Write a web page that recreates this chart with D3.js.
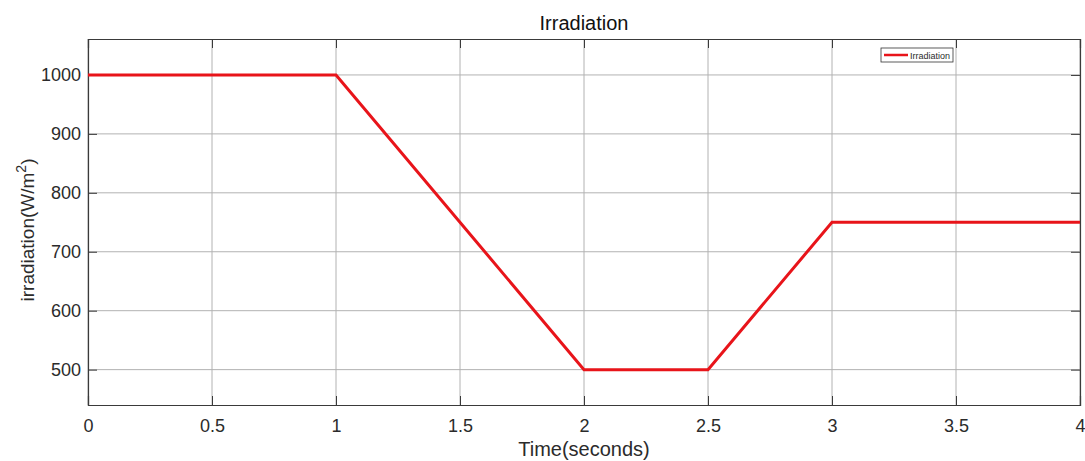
<!DOCTYPE html>
<html>
<head>
<meta charset="utf-8">
<script src="https://cdn.jsdelivr.net/npm/d3@7"></script>
<style>
  html, body { margin: 0; padding: 0; background: #fff; }
  svg { display: block; font-family: "Liberation Sans", Arial, sans-serif; }
</style>
</head>
<body>
<svg id="chart" width="1085" height="461"></svg>
<script>
// Irradiation profile over time
const timeSeconds = [0, 1, 2, 2.5, 3, 4];
const irradiation = [1000, 1000, 500, 500, 750, 750];
const xTicks = [0, 0.5, 1, 1.5, 2, 2.5, 3, 3.5, 4];
const yTicks = [500, 600, 700, 800, 900, 1000];

const svg = d3.select("#chart");
const margin = { left: 88, right: 5, top: 39, bottom: 56 };
const W = 1085, H = 461;
const x0 = margin.left, x1 = W - margin.right;
const y0 = H - margin.bottom, y1 = margin.top;

const x = d3.scaleLinear().domain([0, 4]).range([x0, x1]);
const y = d3.scaleLinear().domain([440, 1061]).range([y0, y1]);

const gridColor = "#b2b2b2";
const axisColor = "#3a3a3a";
const textColor = "#2b2b2b";

// grid
svg.append("g").selectAll("line").data(xTicks).join("line")
  .attr("x1", d => x(d)).attr("x2", d => x(d))
  .attr("y1", y0).attr("y2", y1)
  .attr("stroke", gridColor).attr("stroke-width", 1);
svg.append("g").selectAll("line").data(yTicks).join("line")
  .attr("x1", x0).attr("x2", x1)
  .attr("y1", d => y(d)).attr("y2", d => y(d))
  .attr("stroke", gridColor).attr("stroke-width", 1);

// axes with inward ticks, box on all sides
const xAxis = d3.axisBottom(x).tickValues(xTicks).tickSize(-9).tickPadding(14).tickFormat(d3.format("~g"));
const yAxis = d3.axisLeft(y).tickValues(yTicks).tickSize(-9).tickPadding(7).tickFormat(d3.format("d"));

const gx = svg.append("g").attr("transform", `translate(0,${y0})`).call(xAxis);
const gy = svg.append("g").attr("transform", `translate(${x0},0)`).call(yAxis);
const gxTop = svg.append("g").attr("transform", `translate(0,${y1})`)
  .call(d3.axisTop(x).tickValues(xTicks).tickSize(-9).tickFormat(""));
const gyRight = svg.append("g").attr("transform", `translate(${x1},0)`)
  .call(d3.axisRight(y).tickValues(yTicks).tickSize(-9).tickFormat(""));

[gx, gy, gxTop, gyRight].forEach(g => {
  g.select(".domain").attr("stroke", axisColor).attr("stroke-width", 1.2);
  g.selectAll(".tick line").attr("stroke", axisColor).attr("stroke-width", 1);
  g.selectAll(".tick text").attr("fill", textColor).attr("font-size", 18)
    .attr("font-family", "Liberation Sans, Arial, sans-serif");
});
gx.selectAll(".tick text").attr("dy", "0.71em");

// data line
const line = d3.line().x((d, i) => x(timeSeconds[i])).y(d => y(d));
svg.append("path").datum(irradiation)
  .attr("d", line)
  .attr("fill", "none")
  .attr("stroke", "#e8141a")
  .attr("stroke-width", 3)
  .attr("stroke-linejoin", "miter");

// title
svg.append("text").attr("x", (x0 + x1) / 2).attr("y", 30)
  .attr("text-anchor", "middle").attr("font-size", 20).attr("fill", "#111")
  .text("Irradiation");

// x label
svg.append("text").attr("x", (x0 + x1) / 2).attr("y", 456)
  .attr("text-anchor", "middle").attr("font-size", 20).attr("fill", textColor)
  .text("Time(seconds)");

// y label with superscript
const yl = svg.append("text")
  .attr("transform", `translate(34,230) rotate(-90)`)
  .attr("text-anchor", "middle").attr("font-size", 19).attr("fill", textColor);
yl.append("tspan").text("irradiation(W/m");
yl.append("tspan").attr("font-size", 14).attr("dy", -8).text("2");
yl.append("tspan").attr("dy", 8).text(")");

// legend
const lg = svg.append("g").attr("transform", "translate(881,48)");
lg.append("rect").attr("width", 72).attr("height", 14)
  .attr("fill", "#fff").attr("stroke", "#333").attr("stroke-width", 0.8);
lg.append("line").attr("x1", 3).attr("x2", 27).attr("y1", 7).attr("y2", 7)
  .attr("stroke", "#e8141a").attr("stroke-width", 2.5);
lg.append("text").attr("x", 29).attr("y", 10.5).attr("font-size", 9)
  .attr("fill", textColor).text("Irradiation");
</script>
</body>
</html>
